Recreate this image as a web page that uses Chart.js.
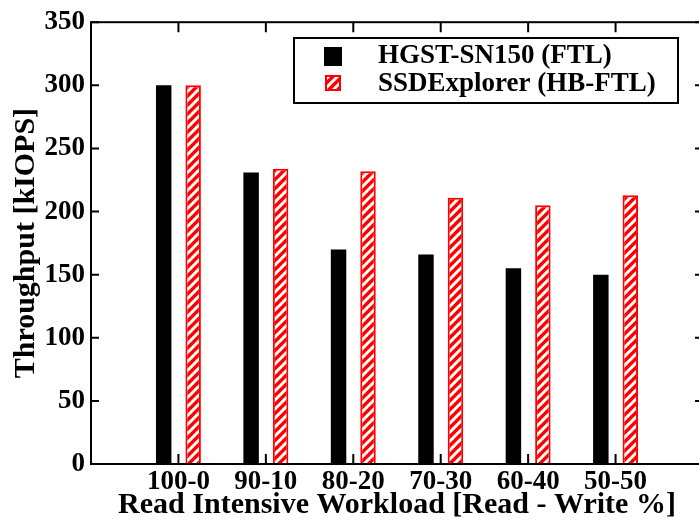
<!DOCTYPE html>
<html>
<head>
<meta charset="utf-8">
<script src="https://cdn.jsdelivr.net/npm/chart.js@4.4.1/dist/chart.umd.min.js"></script>
<style>
  html, body { margin: 0; padding: 0; background: #fff; overflow: hidden; }
  /* a bit wider than the window: the right frame edge is cut off like in the original */
  #wrap { width: 710px; height: 523px; }
</style>
</head>
<body>
<div id="wrap"><canvas id="chart"></canvas></div>
<script>
// data
const workloads = ['100-0', '90-10', '80-20', '70-30', '60-40', '50-50'];
const hgstIops = [300, 231, 170, 166, 155, 150];
const ssdExplorerIops = [300, 234, 232, 211, 205, 213];
const yTicks = [0, 50, 100, 150, 200, 250, 300, 350];
const seriesNames = ['HGST-SN150 (FTL)', 'SSDExplorer (HB-FTL)'];

const FONT = '"Liberation Serif", "Times New Roman", serif';
const RED = '#ff0000';

// red with white diagonal stripes
function makeHatch() {
    const c = document.createElement('canvas');
    c.width = 9;
    c.height = 9;
    const g = c.getContext('2d');
    g.fillStyle = RED;
    g.fillRect(0, 0, 9, 9);
    g.strokeStyle = '#fff';
    g.lineWidth = 3;
    g.beginPath();
    g.moveTo(-1, 10); g.lineTo(10, -1);
    g.moveTo(-2, 2); g.lineTo(2, -2);
    g.moveTo(7, 11); g.lineTo(11, 7);
    g.stroke();
    return g.createPattern(c, 'repeat');
}
const hatch = makeHatch();

// frame with inward ticks on all sides + boxed legend
const framePlugin = {
    id: 'frame',
    afterDraw(chart) {
        const { ctx, chartArea: a, scales: { x, y } } = chart;
        ctx.save();
        ctx.strokeStyle = '#000';
        ctx.lineWidth = 2;
        ctx.strokeRect(a.left, a.top, a.right - a.left, a.bottom - a.top);

        ctx.beginPath();
        yTicks.forEach(v => {
            const py = y.getPixelForValue(v);
            ctx.moveTo(a.left, py); ctx.lineTo(a.left + 8, py);
            ctx.moveTo(a.right, py); ctx.lineTo(a.right - 8, py);
        });
        workloads.forEach((w, i) => {
            const px = x.getPixelForValue(i + 1);
            ctx.moveTo(px, a.bottom); ctx.lineTo(px, a.bottom - 10);
            ctx.moveTo(px, a.top); ctx.lineTo(px, a.top + 10);
        });
        ctx.stroke();

        // legend
        ctx.strokeRect(294, 38, 384, 65);
        ctx.fillStyle = '#000';
        ctx.fillRect(324, 47, 18, 19);
        ctx.fillStyle = hatch;
        ctx.fillRect(325, 75, 16, 16);
        ctx.strokeStyle = RED;
        ctx.strokeRect(326, 76, 14, 14);

        ctx.fillStyle = '#000';
        ctx.font = 'bold 27px ' + FONT;
        ctx.textBaseline = 'middle';
        ctx.textAlign = 'left';
        ctx.fillText(seriesNames[0], 378, 56);
        ctx.fillText(seriesNames[1], 378, 84);
        ctx.restore();
    }
};

new Chart(document.getElementById('chart'), {
    type: 'bar',
    data: {
        datasets: [{
            label: seriesNames[0],
            data: hgstIops.map((v, i) => ({ x: i + 1, y: v })),
            backgroundColor: '#000',
            borderWidth: 0
        }, {
            label: seriesNames[1],
            data: ssdExplorerIops.map((v, i) => ({ x: i + 1, y: v })),
            backgroundColor: hatch,
            borderColor: RED,
            borderWidth: 2
        }]
    },
    options: {
        responsive: true,
        maintainAspectRatio: false,
        animation: false,
        devicePixelRatio: 1,
        categoryPercentage: 0.674,
        barPercentage: 0.525,
        layout: { padding: { top: 18, right: 7, left: 0, bottom: 0 } },
        plugins: {
            legend: { display: false },
            tooltip: { enabled: false }
        },
        scales: {
            x: {
                type: 'linear',
                offset: false,
                min: 0,
                max: 7,
                grid: { display: false, drawTicks: false },
                border: { display: false },
                ticks: {
                    stepSize: 1,
                    autoSkip: false,
                    maxRotation: 0,
                    padding: 2,
                    color: '#000',
                    font: { family: FONT, size: 27, weight: 'bold' },
                    callback: v => workloads[v - 1] ?? ''
                },
                title: {
                    display: true,
                    text: 'Read Intensive Workload [Read - Write %]',
                    color: '#000',
                    font: { family: FONT, size: 30, weight: 'bold' },
                    padding: { top: 0, bottom: 0 }
                },
                afterFit: s => { s.height = 59; }
            },
            y: {
                min: 0,
                max: 350,
                grid: { display: false, drawTicks: false },
                border: { display: false },
                ticks: {
                    stepSize: 50,
                    padding: 6,
                    color: '#000',
                    font: { family: FONT, size: 27, weight: 'bold' }
                },
                title: {
                    display: true,
                    text: 'Throughput [kIOPS]',
                    color: '#000',
                    font: { family: FONT, size: 30, weight: 'bold' },
                    padding: { top: 8, bottom: 0 }
                },
                afterFit: s => { s.width = 91; }
            }
        }
    },
    plugins: [framePlugin]
});
</script>
</body>
</html>
